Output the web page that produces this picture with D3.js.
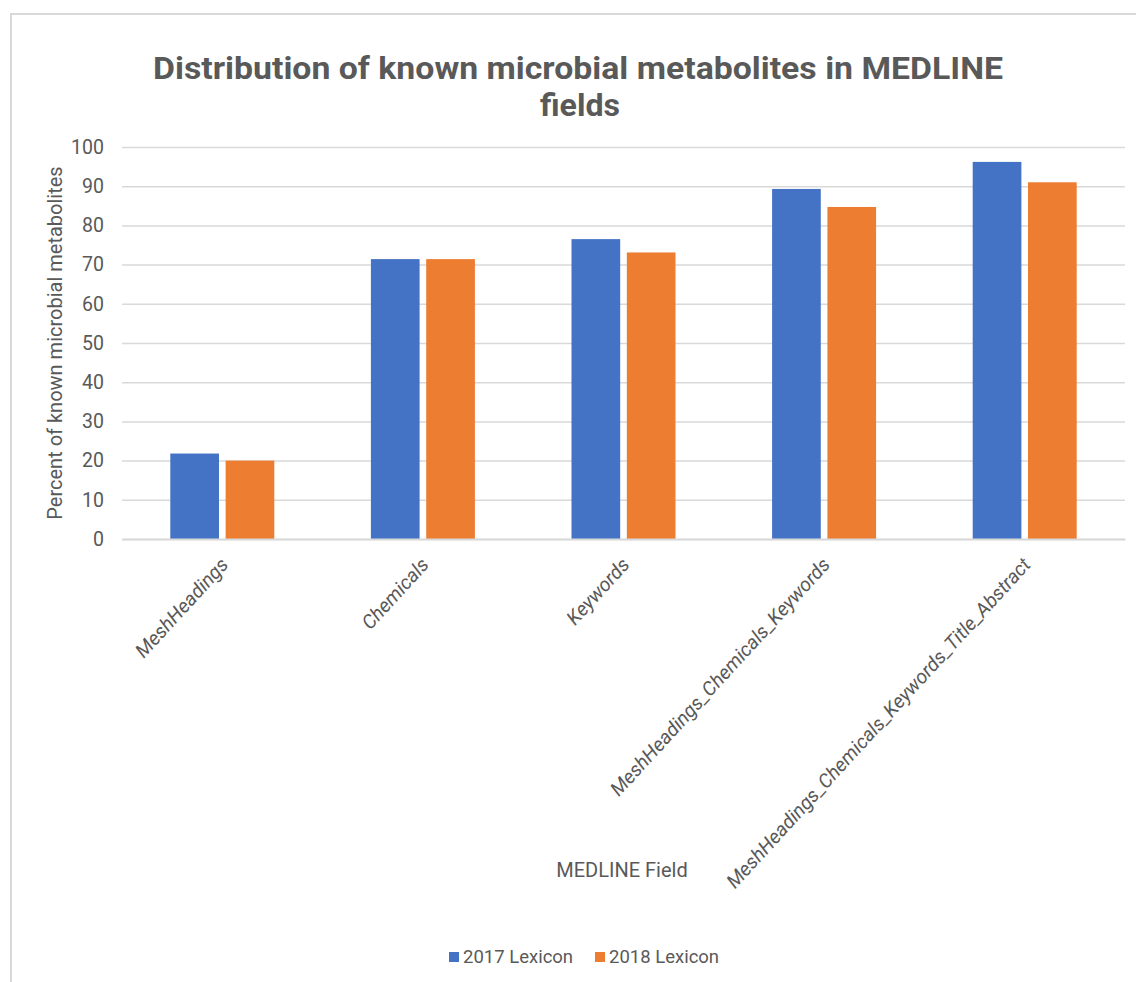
<!DOCTYPE html>
<html>
<head>
<meta charset="utf-8">
<script src="https://cdn.jsdelivr.net/npm/d3@7"></script>
<style>
  body { margin: 0; background: #fff; }
  text { font-family: "Liberation Sans Narrow", "Roboto", "Open Sans", sans-serif; fill: #595959; }
</style>
</head>
<body>
<div id="chart"></div>
<script>
const width = 1136;
const height = 982;

const fields = [
    "MeshHeadings",
    "Chemicals",
    "Keywords",
    "MeshHeadings_Chemicals_Keywords",
    "MeshHeadings_Chemicals_Keywords_Title_Abstract"
];
const seriesNames = ["2017 Lexicon", "2018 Lexicon"];
const lexicon2017 = [21.8, 71.4, 76.5, 89.3, 96.2];
const lexicon2018 = [20.0, 71.4, 73.1, 84.7, 91.0];
const yTicks = [0, 10, 20, 30, 40, 50, 60, 70, 80, 90, 100];
const colors = ["#4472C4", "#ED7D31"];

const margin = {top: 147, left: 122, right: 11, bottom: 443};
const plotW = width - margin.left - margin.right;
const plotH = height - margin.top - margin.bottom;

const svg = d3.select("#chart").append("svg")
    .attr("width", width)
    .attr("height", height);

// chart frame (only the left and top edges fall inside the picture)
svg.append("path")
    .attr("d", `M11,${height} L11,14 L${width},14`)
    .attr("fill", "none")
    .attr("stroke", "#d9d9d9")
    .attr("stroke-width", 2);

// title, two lines
const titleLines = [
    {text: "Distribution of known microbial metabolites in MEDLINE", x: 578, y: 79, len: 850},
    {text: "fields", x: 580, y: 116, len: 80}
];
svg.selectAll(".title")
    .data(titleLines)
    .enter().append("text")
    .attr("class", "title")
    .attr("x", d => d.x).attr("y", d => d.y)
    .attr("text-anchor", "middle")
    .attr("textLength", d => d.len).attr("lengthAdjust", "spacingAndGlyphs")
    .style("font-weight", "bold")
    .style("font-size", "31px")
    .text(d => d.text);

const g = svg.append("g").attr("transform", `translate(${margin.left},${margin.top})`);

const x = d3.scaleBand().domain(fields).range([0, plotW]);
const y = d3.scaleLinear().domain([0, 100]).range([plotH, 0]);
const x1 = d3.scaleBand().domain(seriesNames).range([0, 104]).paddingInner(0.12);

// gridlines + y ticks
const yAxis = g.append("g")
    .call(d3.axisLeft(y).tickValues(yTicks).tickSize(-plotW).tickPadding(18));
yAxis.select(".domain").remove();
yAxis.selectAll(".tick line").attr("stroke", "#d9d9d9").attr("stroke-width", 1.5);
yAxis.selectAll(".tick text").style("font-size", "19.5px").attr("fill", "#595959");

const data = fields.map((f, i) => ({field: f, values: [lexicon2017[i], lexicon2018[i]]}));

g.selectAll(".group")
    .data(data)
    .enter().append("g")
    .attr("class", "group")
    .attr("transform", d => `translate(${x(d.field) + x.bandwidth() / 2 - 52},0)`)
    .selectAll("rect")
    .data(d => d.values.map((v, j) => ({name: seriesNames[j], value: v, color: colors[j]})))
    .enter().append("rect")
    .attr("x", d => x1(d.name))
    .attr("y", d => y(d.value))
    .attr("width", x1.bandwidth())
    .attr("height", d => plotH - y(d.value))
    .attr("fill", d => d.color);

// x axis
const xAxis = g.append("g")
    .attr("transform", `translate(0,${plotH})`)
    .call(d3.axisBottom(x).tickSize(0));
xAxis.select(".domain").attr("stroke", "#d9d9d9").attr("stroke-width", 2);
xAxis.selectAll(".tick text")
    .attr("x", 0).attr("y", 0).attr("dy", "0.35em")
    .attr("text-anchor", "end")
    .attr("transform", "translate(2,22) rotate(-47.5)")
    .style("font-size", "19.5px")
    .style("font-style", "italic")
    .attr("fill", "#595959");

// axis titles
svg.append("text")
    .attr("transform", `translate(62,${margin.top + plotH / 2}) rotate(-90)`)
    .attr("text-anchor", "middle")
    .style("font-size", "20px")
    .text("Percent of known microbial metabolites");

svg.append("text")
    .attr("x", 622).attr("y", 877)
    .attr("text-anchor", "middle")
    .style("font-size", "20px")
    .text("MEDLINE Field");

// legend
const legendItems = [{name: seriesNames[0], x: 449}, {name: seriesNames[1], x: 595}];
const legend = svg.selectAll(".legend")
    .data(legendItems)
    .enter().append("g")
    .attr("class", "legend")
    .attr("transform", d => `translate(${d.x},952)`);
legend.append("rect")
    .attr("width", 10).attr("height", 10)
    .attr("fill", (d, i) => colors[i]);
legend.append("text")
    .attr("x", 14).attr("y", 5).attr("dy", "0.35em")
    .style("font-size", "18.5px")
    .text(d => d.name);
</script>
</body>
</html>
